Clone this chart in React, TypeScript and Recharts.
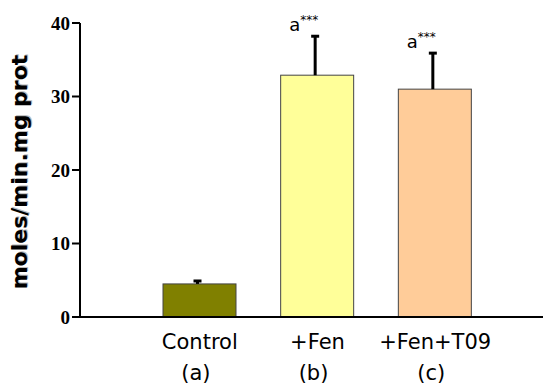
import React from "react";
import { BarChart, Bar, XAxis, YAxis, Cell } from "recharts";

const groups = ["Control", "+Fen", "+Fen+T09"];
const groupCodes = ["(a)", "(b)", "(c)"];
const means = [4.5, 32.9, 31.0];
const errors = [0.4, 5.3, 4.9];
const marks = ["", "a", "a"];
const colors = ["#808000", "#FFFF99", "#FFCC99"];
const yTicks = [0, 10, 20, 30, 40];

const data = groups.map((g, i) => ({
  name: g,
  code: groupCodes[i],
  value: means[i],
  err: errors[i],
  mark: marks[i],
}));

const BarWithError = (props: any) => {
  const { x, y, width, height, fill, payload } = props;
  const perUnit = height / payload.value;
  const top = y - payload.err * perUnit;
  const cx = x + width / 2 - 2;
  return (
    <g>
      <rect x={x} y={y} width={width} height={height} fill={fill} stroke="#444" strokeWidth={1} />
      <line x1={cx} x2={cx} y1={y} y2={top} stroke="#000" strokeWidth={3} />
      <line x1={cx - 4} x2={cx + 4} y1={top} y2={top} stroke="#000" strokeWidth={3} />
      {payload.mark && (
        <text x={cx - 26} y={top - 5} fontFamily="DejaVu Sans" fontSize={18} fill="#000">
          {payload.mark}
          <tspan fontSize={12} dy={-7}>***</tspan>
        </text>
      )}
    </g>
  );
};

const GroupTick = (props: any) => {
  const { x, y, payload, index } = props;
  return (
    <g>
      <text x={x} y={y + 32} textAnchor="middle" fontFamily="DejaVu Sans" fontSize={21} fill="#000">
        {payload.value}
      </text>
      <text x={x - 4} y={y + 63} textAnchor="middle" fontFamily="DejaVu Sans" fontSize={21} fill="#000">
        {groupCodes[index]}
      </text>
    </g>
  );
};

export default function App() {
  return (
    <div style={{ position: "absolute", left: 0, top: 0, width: 543, height: 386, background: "#fff" }}>
      <svg width={543} height={386} style={{ position: "absolute", left: 0, top: 0 }}>
        <text
          transform="translate(27,172) rotate(-90)"
          textAnchor="middle"
          fontFamily="DejaVu Sans"
          fontWeight="bold"
          fontSize={22}
          fill="#bbb"
          dx={1}
          dy={1}
        >
          moles/min.mg prot
        </text>
        <text
          transform="translate(27,172) rotate(-90)"
          textAnchor="middle"
          fontFamily="DejaVu Sans"
          fontWeight="bold"
          fontSize={22}
          fill="#000"
        >
          moles/min.mg prot
        </text>
      </svg>
      <BarChart
        width={543}
        height={386}
        data={data}
        margin={{ top: 23, right: 0, bottom: 0, left: 0 }}
        style={{ position: "absolute", left: 0, top: 0 }}
      >
        <XAxis
          dataKey="name"
          padding={{ left: 61, right: 49 }}
          axisLine={{ stroke: "#000", strokeWidth: 2 }}
          tickLine={false}
          tickSize={0}
          tickMargin={0}
          tick={<GroupTick />}
          interval={0}
          height={69}
        />
        <YAxis
          width={80}
          domain={[0, 40]}
          ticks={yTicks}
          interval={0}
          axisLine={{ stroke: "#000", strokeWidth: 2 }}
          tickLine={{ stroke: "#000", strokeWidth: 2 }}
          tickSize={8}
          tick={{ fill: "#000", fontFamily: "Liberation Serif", fontWeight: "bold", fontSize: 19 }}
        />
        <Bar dataKey="value" barSize={73} shape={<BarWithError />} isAnimationActive={false}>
          {data.map((d, i) => (
            <Cell key={d.name} fill={colors[i]} />
          ))}
        </Bar>
      </BarChart>
    </div>
  );
}
